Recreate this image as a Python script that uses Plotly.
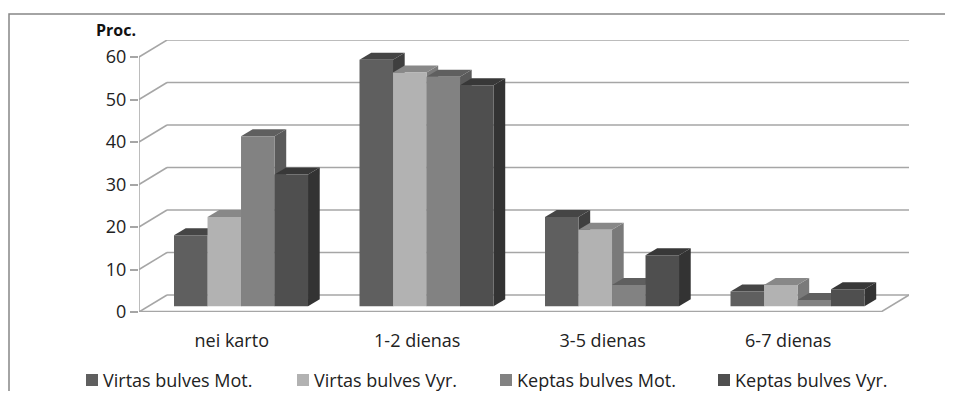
import plotly.graph_objects as go

categories = ['nei karto', '1-2 dienas', '3-5 dienas', '6-7 dienas']
series_names = ['Virtas bulves Mot.', 'Virtas bulves Vyr.',
                'Keptas bulves Mot.', 'Keptas bulves Vyr.']
virtas_mot = [16.7, 58, 21, 3.5]
virtas_vyr = [21, 55, 18, 5]
keptas_mot = [40, 54, 5, 1.5]
keptas_vyr = [31, 52, 12, 4]
y_ticks = [0, 10, 20, 30, 40, 50, 60]

values = [virtas_mot, virtas_vyr, keptas_mot, keptas_vyr]
front_col = ['#5f5f5f', '#b2b2b2', '#828282', '#4f4f4f']
top_col = ['#454545', '#888888', '#5f5f5f', '#383838']
side_col = ['#3f3f3f', '#7a7a7a', '#5a5a5a', '#333333']

# fake 3d: depth of the box and of the bars, in axis units
DX, DY = 0.151, 4.0        # back wall offset
BX, BY = 0.05, 1.34        # plane where the bars stand
ddx, ddy = 0.063, 1.65     # bar depth
bargap = 0.2775
bw = (1 - bargap) / len(values)

fig = go.Figure()
for k, (name, vals) in enumerate(zip(series_names, values)):
    fig.add_trace(go.Bar(
        x=[i + BX for i in range(len(categories))], y=vals, base=BY,
        name=name, marker_color=front_col[k], marker_line_width=0,
        customdata=categories, showlegend=False,
        hovertemplate='%{customdata}<br>%{fullData.name}: %{y}<extra></extra>'
    ))

shapes = []
grid = dict(type='line', xref='x', yref='y', layer='below',
            line=dict(color='#a6a6a6', width=1.5))
for v in y_ticks:
    shapes.append(dict(grid, x0=-0.5 + DX, x1=3.5 + DX, y0=v + DY, y1=v + DY))
    shapes.append(dict(grid, x0=-0.5, x1=-0.5 + DX, y0=v, y1=v + DY))
# floor + front axis
shapes.append(dict(grid, x0=-0.5, x1=3.5, y0=0, y1=0, line=dict(color='#a6a6a6', width=2.5)))
shapes.append(dict(grid, x0=3.5, x1=3.5 + DX, y0=0, y1=DY))
shapes.append(dict(grid, x0=-0.5, x1=-0.5, y0=0, y1=y_ticks[-1]))

sides, tops = [], []
for k, vals in enumerate(values):
    for i, v in enumerate(vals):
        x0 = i + BX - (1 - bargap) / 2 + k * bw
        x1 = x0 + bw
        t = BY + v
        sides.append(dict(type='path', xref='x', yref='y', layer='below',
                          path=f'M{x1},{BY} L{x1},{t} L{x1 + ddx},{t + ddy} L{x1 + ddx},{BY + ddy} Z',
                          fillcolor=side_col[k], line_width=0))
        tops.append(dict(type='path', xref='x', yref='y', layer='below',
                         path=f'M{x0},{t} L{x1},{t} L{x1 + ddx},{t + ddy} L{x0 + ddx},{t + ddy} Z',
                         fillcolor=top_col[k], line_width=0))
shapes += sides + tops

# page body has an 8px margin, so the figure is smaller than the window
L, R, T, B, W, H = 131, 36, 32, 79, 937, 383
pw, ph = W - L - R, H - T - B
bx0, bx1 = (1 - L) / pw, (W - L) / pw
by0, by1 = (H - B - H) / ph, (H - B - 6) / ph
shapes.append(dict(type='path', xref='paper', yref='paper',
                   path=f'M{bx0},{by0} L{bx0},{by1} L{bx1},{by1}',
                   line=dict(color='#868686', width=1.5)))

# legend drawn by hand (plotly's legend pushes the margins here)
def px_x(p):
    return (p - L) / pw

def px_y(p):
    return (H - B - p) / ph

annotations = [dict(text='<b>Proc.</b>', xref='paper', yref='paper',
                    x=px_x(108), y=px_y(22), xanchor='center', yanchor='middle',
                    showarrow=False, font=dict(size=16, color='#111111'))]
leg_x = [78, 289, 492, 710]
leg_y = 372
for k, name in enumerate(series_names):
    shapes.append(dict(type='rect', xref='paper', yref='paper',
                       x0=px_x(leg_x[k]), x1=px_x(leg_x[k] + 12),
                       y0=px_y(leg_y + 6), y1=px_y(leg_y - 6),
                       fillcolor=front_col[k], line_width=0))
    annotations.append(dict(text=name, xref='paper', yref='paper',
                            x=px_x(leg_x[k] + 15), y=px_y(leg_y),
                            xanchor='left', yanchor='middle', showarrow=False,
                            font=dict(size=18, color='#222222')))

fig.update_layout(
    width=W, height=H,
    margin=dict(l=L, r=R, t=T, b=B),
    barmode='group', bargap=bargap, bargroupgap=0,
    plot_bgcolor='white', paper_bgcolor='white',
    font=dict(family='Open Sans', size=18, color='#222222'),
    shapes=shapes, annotations=annotations,
    showlegend=False
)
fig.update_xaxes(range=[-0.5, 3.5 + DX], tickvals=list(range(len(categories))),
                 ticktext=categories, showgrid=False, zeroline=False, showline=False,
                 ticks='outside', ticklen=12, tickcolor='rgba(0,0,0,0)',
                 automargin=False)
fig.update_yaxes(range=[0, 64], tickvals=y_ticks, showgrid=False, zeroline=False,
                 showline=False, ticks='outside', ticklen=8, tickcolor='#a6a6a6',
                 tickwidth=1.5, automargin=False)

fig.write_html('out.html')
